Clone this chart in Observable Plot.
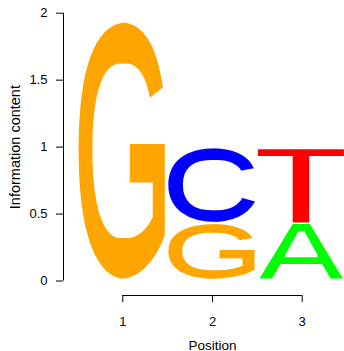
<!DOCTYPE html>
<html>
<head>
<meta charset="utf-8">
<script src="https://cdn.jsdelivr.net/npm/d3@7"></script>
<script src="https://cdn.jsdelivr.net/npm/@observablehq/plot@0.6"></script>
<style>
  html, body { margin: 0; padding: 0; background: #fff; }
</style>
</head>
<body>
<div id="chart"></div>
<script>
// ---- data ----
const positions = [1, 2, 2, 3, 3];          // stacked bottom -> top per position
const letters   = ["G", "G", "C", "A", "T"];
const bits      = [1.935, 0.425, 0.57, 0.43, 0.565];
const xTicks = [1, 2, 3];
const yTicks = [0, 0.5, 1, 1.5, 2];
const letterDomain = ["A", "C", "G", "T"];
const letterColors = ["#00FF00", "#0000FF", "#FFA500", "#FF0000"];
const xLabel = "Position";
const yLabel = "Information content";

// ---- layout / style ----
const W = 344, H = 351;
const marginLeft = 63, marginTop = 12.7, marginBottom = 56, marginRight = 0;
const xRange = [122.3, 301.7];
const yRange = [280.5, 12.7];
const FONT = "'Liberation Sans', Arial, Helvetica, sans-serif";
const GLYPH_FONT_FAMILY = "'Liberation Sans', Arial, sans-serif";
const GLYPH_WEIGHT = "bold";
// per-letter stroke thinning (px, horizontal / vertical)
const glyphErode = {A: [2.5, 0.5], C: [2.5, 0], G: [2.5, 0], T: [2.5, 3.3]};

// stack
const rows = [];
const baseAt = {};
positions.forEach((p, i) => {
  const b = baseAt[p] || 0;
  rows.push({pos: p, letter: letters[i], y0: b, y1: b + bits[i]});
  baseAt[p] = b + bits[i];
});

const plot = Plot.plot({
  width: W, height: H,
  marginLeft, marginTop, marginBottom, marginRight,
  style: {fontFamily: FONT, fontSize: "13px", background: "white", color: "black"},
  x: {domain: [xTicks[0], xTicks[xTicks.length - 1]], range: xRange},
  y: {domain: [yTicks[0], yTicks[yTicks.length - 1]], range: yRange},
  color: {domain: letterDomain, range: letterColors},
  marks: [
    Plot.text(rows, {
      x: "pos", y: d => (d.y0 + d.y1) / 2, text: "letter", fill: "letter"
    }),
    Plot.axisY(yTicks, {tickSize: 7, tickPadding: 9, tickFormat: d => String(d), label: null}),
    Plot.axisX(xTicks, {tickSize: 7, tickPadding: 14, tickFormat: d => String(d), label: null}),
    Plot.ruleX([xTicks[0]], {y1: yTicks[0], y2: yTicks[yTicks.length - 1], dx: marginLeft - xRange[0], stroke: "black"}),
    Plot.ruleY([yTicks[0]], {x1: xTicks[0], x2: xTicks[xTicks.length - 1], dy: (H - marginBottom) - yRange[0], stroke: "black"}),
    Plot.text([yLabel], {
      text: d => d, frameAnchor: "left", y: [(yTicks[0] + yTicks[yTicks.length - 1]) / 2],
      rotate: -90, dx: -48.6, fontSize: 14.5, textAnchor: "middle", lineAnchor: "middle"
    }),
    Plot.text([xLabel], {
      text: d => d, frameAnchor: "bottom", x: [(xTicks[0] + xTicks[xTicks.length - 1]) / 2],
      dy: 50, fontSize: 13.5, textAnchor: "middle", lineAnchor: "middle"
    })
  ]
});
document.getElementById("chart").appendChild(plot);

// ---- stretch each letter glyph to fill its stacked box (positions from the plot's scales) ----
const NS = "http://www.w3.org/2000/svg";
const xs = plot.scale("x"), ys = plot.scale("y");
const svg = plot.tagName.toLowerCase() === "svg" ? plot : plot.querySelector("svg");
const defs = document.createElementNS(NS, "defs");
svg.insertBefore(defs, svg.firstChild);
Object.entries(glyphErode).forEach(([k, [rx, ry]]) => {
  const f = document.createElementNS(NS, "filter");
  f.setAttribute("id", "erode-" + k);
  f.setAttribute("x", "-5%"); f.setAttribute("y", "-5%");
  f.setAttribute("width", "110%"); f.setAttribute("height", "110%");
  f.setAttribute("color-interpolation-filters", "sRGB");
  const m = document.createElementNS(NS, "feMorphology");
  m.setAttribute("operator", "erode");
  m.setAttribute("radius", `${rx} ${ry}`);
  f.appendChild(m);
  defs.appendChild(f);
});

const group = svg.querySelectorAll('g[aria-label="text"]')[0];
const ctx = document.createElement("canvas").getContext("2d");
const FS = 200;
ctx.font = `${GLYPH_WEIGHT} ${FS}px ${GLYPH_FONT_FAMILY}`;
const els = Array.from(group.querySelectorAll("text"));
els.forEach((el, i) => {
  const r = rows[i];
  const [rx, ry] = glyphErode[r.letter] || [0, 0];
  const m = ctx.measureText(r.letter);
  const L = m.actualBoundingBoxLeft, R = m.actualBoundingBoxRight;
  const A = m.actualBoundingBoxAscent, D = m.actualBoundingBoxDescent;
  const x0 = xs.apply(r.pos - 0.5) - rx, x1 = xs.apply(r.pos + 0.48) + rx;
  const yTop = ys.apply(r.y1) - ry, yBot = ys.apply(r.y0) - 2 + ry;
  const sx = (x1 - x0) / (L + R), sy = (yBot - yTop) / (A + D);
  el.removeAttribute("dy");
  el.setAttribute("x", 0); el.setAttribute("y", 0);
  el.setAttribute("text-anchor", "start");
  el.style.fontSize = FS + "px";
  el.style.fontFamily = GLYPH_FONT_FAMILY;
  el.style.fontWeight = GLYPH_WEIGHT;
  el.setAttribute("transform", `translate(${x0},${yTop}) scale(${sx},${sy}) translate(${L},${A})`);
  const wrap = document.createElementNS(NS, "g");
  wrap.setAttribute("filter", `url(#erode-${r.letter})`);
  group.insertBefore(wrap, el);
  wrap.appendChild(el);
});
group.removeAttribute("dy");
group.setAttribute("text-anchor", "start");
</script>
</body>
</html>
